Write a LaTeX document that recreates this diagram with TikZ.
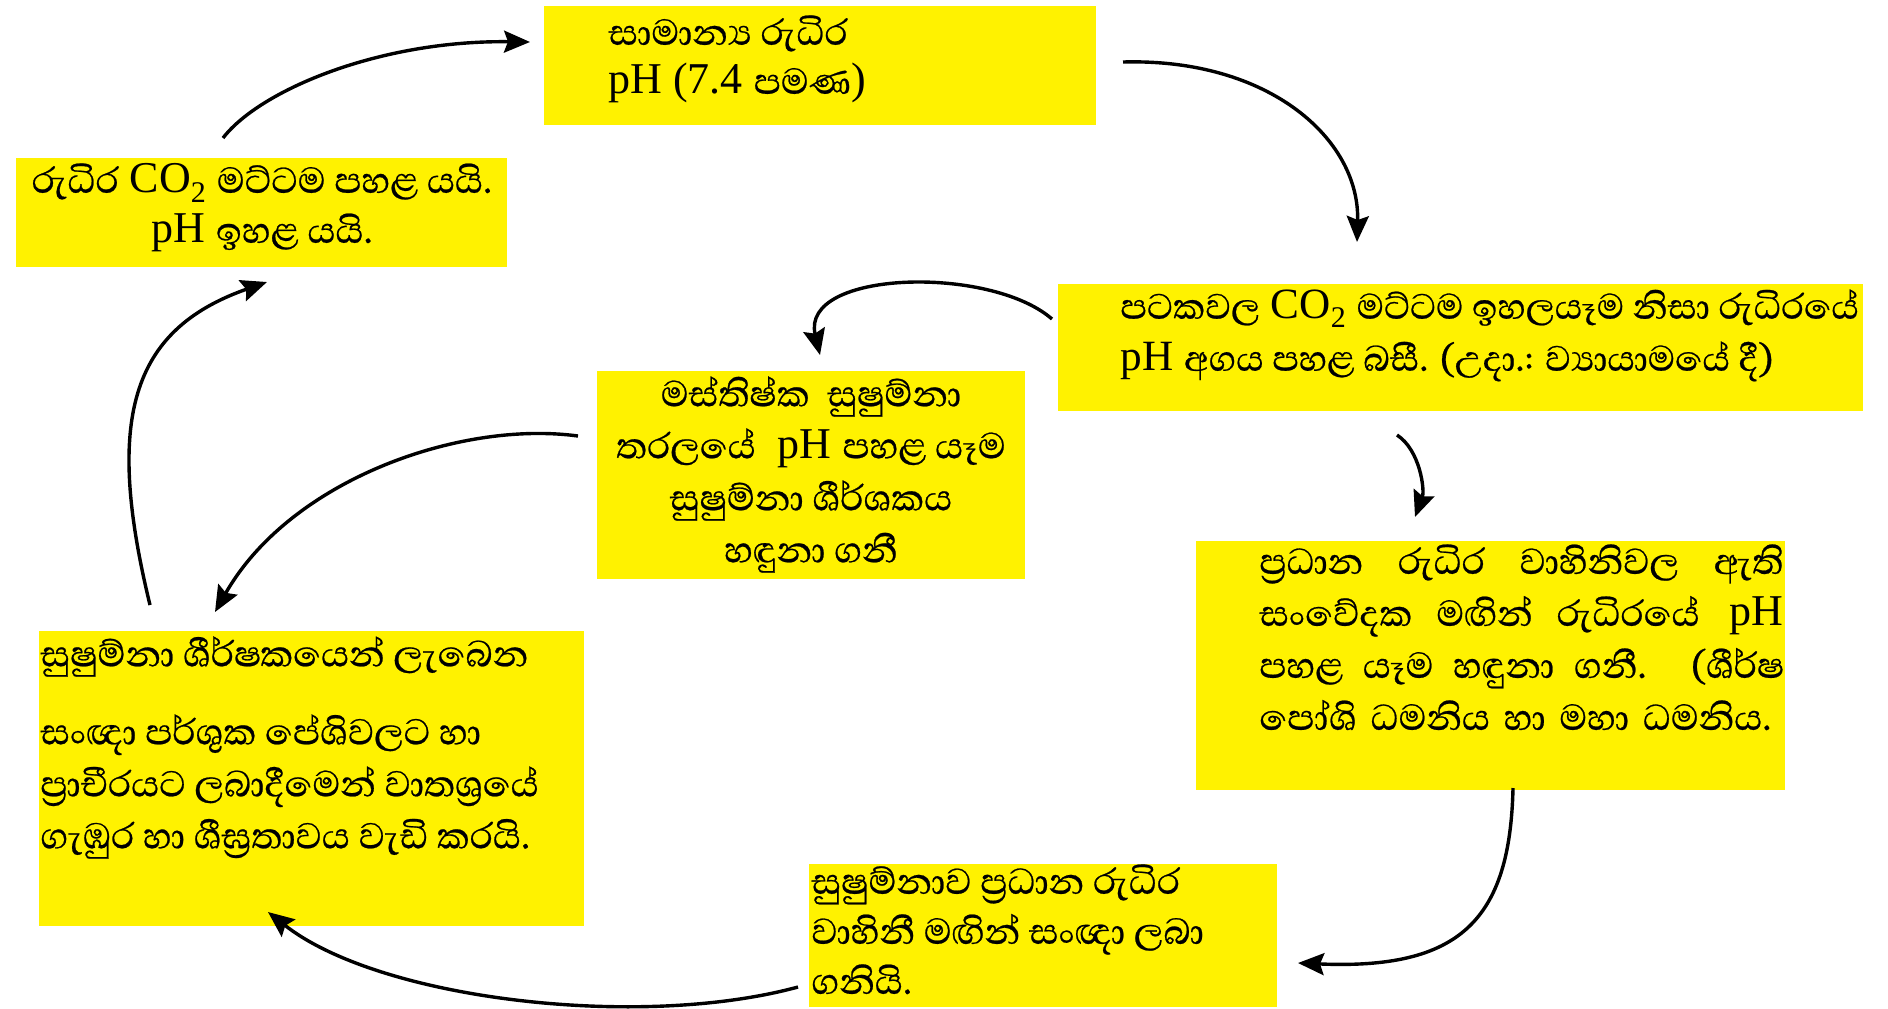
\documentclass[tikz,border=0pt]{standalone}
\usepackage{fontspec}
\setmainfont{Liberation Serif}
\newfontfamily\sinhfont[Script=Sinhala, Scale=1.05, FakeBold=0.5]{Abhaya Libre}
\newcommand{\sn}[1]{{\sinhfont #1}}
\newcommand{\cotwo}{CO\raisebox{-0.45ex}{\fontsize{15}{15}\selectfont 2}}
\usetikzlibrary{arrows.meta}
\definecolor{boxyellow}{RGB}{255,242,0}
\tikzset{
  ybox/.style={rectangle, fill=boxyellow, draw=none, inner sep=0pt, anchor=north west},
  txt/.style={inner sep=0pt, font=\fontsize{22}{26}\selectfont},
  arr/.style={line width=1.7pt, -{Stealth[length=13pt, width=11pt, inset=2pt]}}
}
\begin{document}
\begin{tikzpicture}[x=0.5pt, y=-0.5pt]
\useasboundingbox (0,0) rectangle (1888,1008);

% yellow boxes
\node[ybox, minimum width=276pt,   minimum height=59.5pt]  (b1) at (544,6)    {};
\node[ybox, minimum width=245.5pt, minimum height=54.5pt]  (b2) at (16,158)   {};
\node[ybox, minimum width=402.5pt, minimum height=63.5pt]  (b3) at (1058,284) {};
\node[ybox, minimum width=214pt,   minimum height=104pt]   (b4) at (597,371)  {};
\node[ybox, minimum width=294.5pt, minimum height=124.5pt] (b5) at (1196,541) {};
\node[ybox, minimum width=272.5pt, minimum height=147.5pt] (b6) at (39,631)   {};
\node[ybox, minimum width=234pt,   minimum height=71.5pt]  (b7) at (809,864)  {};

% texts
\node[txt, anchor=north west, align=left] (t1) at (608,15)
  {\sn{සාමාන්^^^^200dය රුධිර}\\[-1.5pt] pH (7.4 \sn{පමණ})};
\node[txt, anchor=north, align=center] (t2) at (262,163)
  {\sn{රුධිර} \cotwo{} \sn{මට්ටම පහළ යයි.}\\[-1pt] pH \sn{ඉහළ යයි.}};
\node[txt, anchor=north west, align=left, font=\fontsize{21.6}{26}\selectfont] (t3) at (1120,289)
  {\sn{පටකවල} \cotwo{} \sn{මට්ටම ඉහලයෑම නිසා රුධිරයේ}\\
   pH \sn{අගය පහළ බසී. (උදා.: ව්^^^^200dයායාමයේ දී)}};
\node[txt, anchor=north, align=center] (t4) at (811,376)
  {\sn{මස්තිෂ්ක\ \ සුෂුම්නා}\\ \sn{තරලයේ}\ \ pH \sn{පහළ යෑම}\\
   \sn{සුෂුම්නා ශීර්ශකය}\\ \sn{හඳුනා ගනී}};
\node[txt, anchor=north west, align=left] (t5) at (1259,544)
  {\makebox[262pt][s]{\sn{ප්^^^^200dරධාන රුධිර වාහිනිවල ඇති}}\\
   \makebox[262pt][s]{\sn{සංවේදක මඟින් රුධිරයේ} pH}\\
   \makebox[262pt][s]{\sn{පහළ යෑම හඳුනා ගනී. (ශීර්ෂ}}\\
   \makebox[256pt][s]{\sn{පෝශි ධමනිය හා මහා ධමනිය.}}};
\node[txt, anchor=north west, align=left] (t6) at (40,636)
  {\sn{සුෂුම්නා ශීර්ෂකයෙන් ලැබෙන}\\[13pt]
   \sn{සංඥා පර්ශුක පේශිවලට හා}\\
   \sn{ප්^^^^200dරාචීරයට ලබාදීමෙන් වාතශ්^^^^200dරයේ}\\
   \sn{ගැඹුර හා ශීඝ්^^^^200dරතාවය වැඩි කරයි.}};
\node[txt, anchor=north west, align=left] (t7) at (811,864)
  {\sn{සුෂුම්නාව ප්^^^^200dරධාන රුධිර}\\[-1pt] \sn{වාහිනී මඟින් සංඥා ලබා}\\[-1pt] \sn{ගනියි.}};

% arrow end points
\coordinate (a1s) at (1123,62);   \coordinate (a1e) at (1357,242);
\coordinate (a2s) at (1397,435);  \coordinate (a2e) at (1415,517);
\coordinate (a3s) at (1513,788);  \coordinate (a3e) at (1298,963);
\coordinate (a4s) at (798,987);   \coordinate (a4e) at (268,912);
\coordinate (a5s) at (150,605);   \coordinate (a5e) at (267,282);
\coordinate (a6s) at (223,138);   \coordinate (a6e) at (530,42);
\coordinate (a7s) at (1052,319);  \coordinate (a7e) at (820,355);
\coordinate (a8s) at (578,436);   \coordinate (a8e) at (215,612);

% cycle arrows
\draw[arr] (a1s) .. controls (1270,58) and (1360,140) .. (a1e);
\draw[arr] (a2s) .. controls (1420,450) and (1425,490) .. (a2e);
\draw[arr] (a3s) .. controls (1510,920) and (1460,970) .. (a3e);
\draw[arr] (a4s) .. controls (640,1030) and (380,1000) .. (a4e);
\draw[arr] (a5s) .. controls (105,420) and (130,330) .. (a5e);
\draw[arr] (a6s) .. controls (260,90) and (380,40) .. (a6e);
\draw[arr] (a7s) .. controls (990,265) and (800,270) .. (a7e);
\draw[arr] (a8s) .. controls (460,420) and (290,480) .. (a8e);
\end{tikzpicture}
\end{document}
